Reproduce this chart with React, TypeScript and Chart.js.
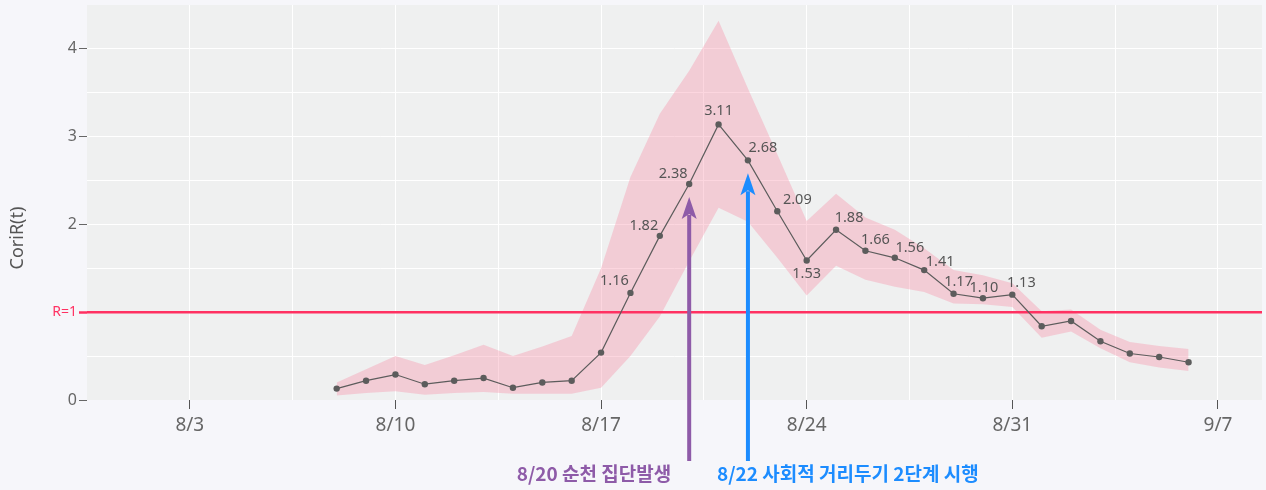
import React, { useEffect, useRef } from 'react';
import { Chart, registerables } from 'chart.js';

Chart.register(...registerables);

// ---------------- data ----------------
const dates = [
  '8/8', '8/9', '8/10', '8/11', '8/12', '8/13', '8/14', '8/15', '8/16', '8/17',
  '8/18', '8/19', '8/20', '8/21', '8/22', '8/23', '8/24', '8/25', '8/26', '8/27',
  '8/28', '8/29', '8/30', '8/31', '9/1', '9/2', '9/3', '9/4', '9/5', '9/6',
];
const rValues = [
  0.13, 0.22, 0.29, 0.18, 0.22, 0.25, 0.14, 0.2, 0.22, 0.54,
  1.22, 1.87, 2.46, 3.14, 2.73, 2.15, 1.59, 1.94, 1.7, 1.62,
  1.48, 1.21, 1.16, 1.2, 0.84, 0.9, 0.67, 0.53, 0.49, 0.43,
];
const upperCI = [
  0.2, 0.35, 0.5, 0.4, 0.51, 0.63, 0.5, 0.61, 0.73, 1.5,
  2.54, 3.26, 3.75, 4.32, 3.55, 2.8, 2.04, 2.35, 2.08, 1.94,
  1.73, 1.48, 1.42, 1.33, 1.01, 1.03, 0.8, 0.66, 0.615, 0.58,
];
const lowerCI = [
  0.05, 0.08, 0.1, 0.06, 0.08, 0.09, 0.07, 0.07, 0.07, 0.14,
  0.5, 0.95, 1.58, 2.19, 2.03, 1.62, 1.19, 1.53, 1.37, 1.29,
  1.23, 1.1, 1.09, 1.06, 0.71, 0.78, 0.59, 0.43, 0.37, 0.33,
];
const labelDates = [
  '8/18', '8/19', '8/20', '8/21', '8/22', '8/23', '8/24',
  '8/25', '8/26', '8/27', '8/28', '8/29', '8/30', '8/31',
];
const labelTexts = [
  '1.16', '1.82', '2.38', '3.11', '2.68', '2.09', '1.53',
  '1.88', '1.66', '1.56', '1.41', '1.17', '1.10', '1.13',
];
const threshold = 1;
const thresholdLabel = 'R=1';
const yTitle = 'CoriR(t)';
const eventDates = ['8/20', '8/22'];
const eventTexts = ['8/20 순천 집단발생', '8/22 사회적 거리두기 2단계 시행'];

// ---------------- style / layout ----------------
const labelOffsets: [number, number][] = [
  [-16, -12], [-16, -10], [-16, -10], [0, -14], [15, -12], [20, -11], [0, 13],
  [13, -12], [10, -11], [15, -10], [16, -8], [5, -12], [1, -10], [9, -12],
];
const eventColors = ['#8e5ba8', '#1c8cff'];
const eventAlign: CanvasTextAlign[] = ['right', 'left'];
const eventTextDx = [-18, -31];
const RED = '#ff3162';
const PAGE_BG = '#f6f6fa';
const PLOT_BG = '#eff0f0';
const LINE = '#5c5c5c';
const TXT = '#666666';
const FONT = '"Noto Sans", "DejaVu Sans", sans-serif';

const BASE = Date.UTC(2020, 7, 3);
const dayOf = (s: string) => {
  const [m, d] = s.split('/').map(Number);
  return (Date.UTC(2020, m - 1, d) - BASE) / 86400000;
};
const dateLabel = (v: number) => {
  const dt = new Date(BASE + v * 86400000);
  return `${dt.getUTCMonth() + 1}/${dt.getUTCDate()}`;
};
const isWeek = (v: number) => Math.abs(((v % 7) + 7) % 7) < 1e-6;

const X_MIN = -3.5;
const X_MAX = 36.5;
const Y_MIN = 0;
const Y_MAX = 4.5;

export default function App() {
  const ref = useRef<HTMLCanvasElement | null>(null);

  useEffect(() => {
    if (!ref.current) return;

    const bgPlugin = {
      id: 'bgPlugin',
      beforeDraw(chart: any) {
        const { ctx, chartArea } = chart;
        ctx.save();
        ctx.fillStyle = PAGE_BG;
        ctx.fillRect(0, 0, chart.width, chart.height);
        ctx.fillStyle = PLOT_BG;
        ctx.fillRect(chartArea.left, chartArea.top, chartArea.right - chartArea.left, chartArea.bottom - chartArea.top);
        ctx.restore();
      },
      afterDatasetDraw(chart: any, args: any) {
        if (args.index !== 1) return;
        const { ctx, chartArea } = chart;
        const y = chart.scales.y.getPixelForValue(threshold);
        ctx.save();
        ctx.strokeStyle = RED;
        ctx.lineWidth = 2.5;
        ctx.beginPath();
        ctx.moveTo(chartArea.left, y);
        ctx.lineTo(chartArea.right, y);
        ctx.stroke();
        ctx.restore();
      },
      afterDatasetsDraw(chart: any) {
        const { ctx } = chart;
        const meta = chart.getDatasetMeta(0);
        ctx.save();
        ctx.font = `14.5px ${FONT}`;
        ctx.fillStyle = '#555555';
        ctx.textAlign = 'center';
        ctx.textBaseline = 'middle';
        labelDates.forEach((d, i) => {
          const idx = dates.indexOf(d);
          const pt = meta.data[idx];
          ctx.fillText(labelTexts[i], pt.x + labelOffsets[i][0], pt.y + labelOffsets[i][1]);
        });
        ctx.restore();
      },
      afterDraw(chart: any) {
        const { ctx } = chart;
        const meta = chart.getDatasetMeta(0);
        ctx.save();
        // axis title
        ctx.translate(18, 238);
        ctx.rotate(-Math.PI / 2);
        ctx.font = `18px ${FONT}`;
        ctx.fillStyle = '#555555';
        ctx.textAlign = 'center';
        ctx.textBaseline = 'middle';
        ctx.fillText(yTitle, 0, 0);
        ctx.restore();

        eventDates.forEach((d, i) => {
          const idx = dates.indexOf(d);
          const pt = meta.data[idx];
          const x = pt.x;
          const tipY = pt.y + 13;
          const tailY = 461;
          const headLen = 22;
          const headW = 7.5;
          ctx.save();
          ctx.strokeStyle = eventColors[i];
          ctx.fillStyle = eventColors[i];
          ctx.lineWidth = 4;
          ctx.beginPath();
          ctx.moveTo(x, tailY);
          ctx.lineTo(x, tipY + headLen - 4);
          ctx.stroke();
          ctx.beginPath();
          ctx.moveTo(x, tipY);
          ctx.lineTo(x + headW, tipY + headLen);
          ctx.lineTo(x, tipY + headLen - 5);
          ctx.lineTo(x - headW, tipY + headLen);
          ctx.closePath();
          ctx.fill();
          ctx.font = `bold 19px "Noto Sans CJK KR", ${FONT}`;
          ctx.textAlign = eventAlign[i];
          ctx.textBaseline = 'middle';
          ctx.fillText(eventTexts[i], x + eventTextDx[i], 474);
          ctx.restore();
        });
      },
    };

    const chart = new Chart(ref.current, {
      type: 'line',
      data: {
        datasets: [
          {
            data: dates.map((d, i) => ({ x: dayOf(d), y: rValues[i] })),
            borderColor: LINE,
            borderWidth: 1.2,
            pointRadius: 3.2,
            pointBackgroundColor: LINE,
            pointBorderWidth: 0,
            fill: false,
            tension: 0,
          },
          {
            data: dates.map((d, i) => ({ x: dayOf(d), y: upperCI[i] })),
            borderColor: 'rgba(0,0,0,0)',
            borderWidth: 0,
            pointRadius: 0,
            backgroundColor: 'rgba(247,142,165,0.36)',
            fill: '+1',
            tension: 0,
          },
          {
            data: dates.map((d, i) => ({ x: dayOf(d), y: lowerCI[i] })),
            borderColor: 'rgba(0,0,0,0)',
            borderWidth: 0,
            pointRadius: 0,
            fill: false,
            tension: 0,
          },
        ],
      },
      options: {
        responsive: false,
        animation: false,
        devicePixelRatio: 1,
        layout: { padding: { top: 5, right: 3, left: 0, bottom: 0 } },
        plugins: {
          legend: { display: false },
          tooltip: { enabled: false },
        },
        scales: {
          x: {
            type: 'linear',
            min: X_MIN,
            max: X_MAX,
            border: { display: false },
            afterFit: (scale: any) => {
              scale.height = 90;
              scale.paddingLeft = 0;
              scale.paddingRight = 0;
            },
            grid: {
              color: (ctx: any) =>
                ctx.tick && (ctx.tick.value <= X_MIN + 1e-6 || ctx.tick.value >= X_MAX - 1e-6)
                  ? 'rgba(0,0,0,0)'
                  : '#ffffff',
              lineWidth: 1,
              drawTicks: true,
              tickLength: 9,
              tickColor: (ctx: any) => (ctx.tick && isWeek(ctx.tick.value) ? '#555555' : 'rgba(0,0,0,0)'),
              tickWidth: 1,
            },
            ticks: {
              stepSize: 3.5,
              includeBounds: false,
              autoSkip: false,
              maxRotation: 0,
              padding: 5,
              color: TXT,
              font: { family: FONT, size: 19 },
              callback: (v: any) => (isWeek(Number(v)) ? dateLabel(Number(v)) : ''),
            },
          },
          y: {
            type: 'linear',
            min: Y_MIN,
            max: Y_MAX,
            border: { display: false },
            afterFit: (scale: any) => {
              scale.width = 87;
              scale.paddingTop = 0;
              scale.paddingBottom = 0;
            },
            grid: {
              color: (ctx: any) =>
                ctx.tick && (ctx.tick.value <= Y_MIN + 1e-6 || ctx.tick.value >= Y_MAX - 1e-6)
                  ? 'rgba(0,0,0,0)'
                  : '#ffffff',
              lineWidth: 1,
              drawTicks: true,
              tickLength: 8,
              tickColor: (ctx: any) => {
                const v = ctx.tick ? ctx.tick.value : -1;
                if (v === threshold) return RED;
                return Number.isInteger(v) && v < Y_MAX ? '#666666' : 'rgba(0,0,0,0)';
              },
              tickWidth: (ctx: any) => (ctx.tick && ctx.tick.value === threshold ? 2.5 : 1),
            },
            ticks: {
              stepSize: 0.5,
              padding: 2,
              color: (ctx: any) => (ctx.tick && ctx.tick.value === threshold ? RED : TXT),
              font: (ctx: any) => ({
                family: FONT,
                size: ctx.tick && ctx.tick.value === threshold ? 14 : 16,
              }),
              callback: (v: any) => {
                const n = Number(v);
                if (n === threshold) return thresholdLabel;
                return Number.isInteger(n) ? String(n) : '';
              },
            },
          },
        },
      },
      plugins: [bgPlugin],
    } as any);

    return () => chart.destroy();
  }, []);

  return (
    <div
      style={{
        position: 'fixed',
        left: 0,
        top: 0,
        width: 1266,
        height: 490,
        background: PAGE_BG,
      }}
    >
      <canvas ref={ref} width={1266} height={490} style={{ width: 1266, height: 490, display: 'block' }} />
    </div>
  );
}
